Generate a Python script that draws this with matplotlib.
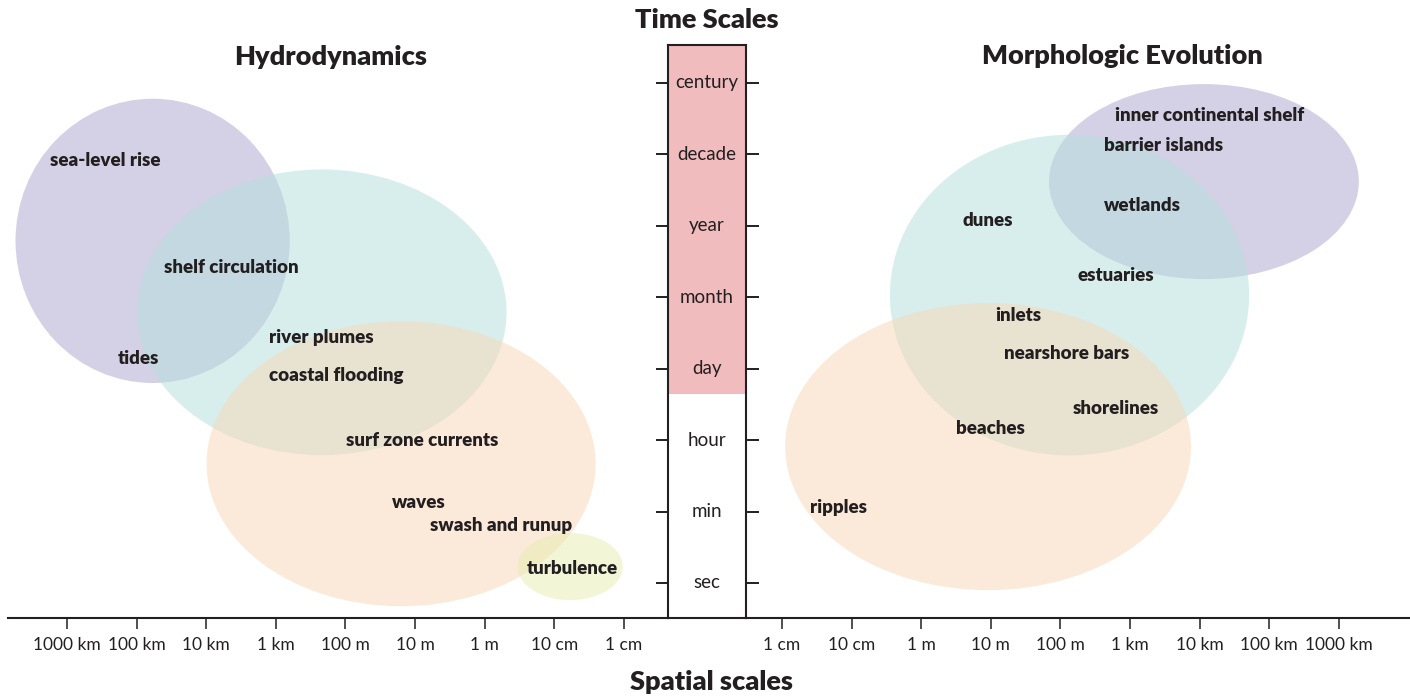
import matplotlib
matplotlib.use("Agg")
import matplotlib.pyplot as plt
from matplotlib.patches import Ellipse

plt.rcParams["font.family"] = ["Lato", "DejaVu Sans"]

# spatial scale axis: log10(metres) and labels
space_vals = [6, 5, 4, 3, 2, 1, 0, -1, -2]
space_labels = ["1000 km", "100 km", "10 km", "1 km", "100 m", "10 m", "1 m", "10 cm", "1 cm"]

# time scale axis (index: sec=0 ... century=7)
time_labels = ["sec", "min", "hour", "day", "month", "year", "decade", "century"]
time_vals = list(range(len(time_labels)))
pink_from = 2.65  # day and longer are shaded

# ellipses: (centre log10 m, centre time, width decades, height time units, colour)
hydro_names = ["sea-level rise", "shelf circulation", "tides", "river plumes",
               "coastal flooding", "surf zone currents", "waves", "swash and runup",
               "turbulence"]
hydro_x = [6.24, 4.61, 5.27, 3.10, 3.10, 1.99, 1.33, 0.79, -0.61]
hydro_y = [5.91, 4.42, 3.14, 3.44, 2.90, 2.00, 1.13, 0.81, 0.21]
hydro_blobs = [
    (4.77, 4.79, 3.94, 3.98, "#aaa4cf"),
    (2.34, 3.79, 5.31, 4.00, "#b3dfdb"),
    (1.20, 1.67, 5.59, 3.99, "#f9d7b6"),
    (-1.23, 0.23, 1.51, 0.94, "#e6ecae"),
]

morph_names = ["inner continental shelf", "barrier islands", "wetlands", "dunes",
               "estuaries", "inlets", "nearshore bars", "shorelines", "beaches", "ripples"]
morph_x = [2.78, 2.63, 2.63, 0.59, 2.24, 1.07, 1.19, 2.18, 0.50, -1.60]
morph_y = [6.55, 6.12, 5.28, 5.07, 4.31, 3.74, 3.21, 2.45, 2.16, 1.06]
morph_blobs = [
    (4.06, 5.62, 4.45, 2.73, "#aaa4cf"),
    (2.13, 4.03, 5.16, 4.49, "#b3dfdb"),
    (0.96, 1.91, 5.83, 4.02, "#f9d7b6"),
]

W, H = 1410, 696
INK = "#231f20"
fig = plt.figure(figsize=(W / 100, H / 100), dpi=100)


def px_axes(x0, y0, x1, y1):
    # axes from pixel box (top-left origin)
    return fig.add_axes([x0 / W, 1 - y1 / H, (x1 - x0) / W, (y1 - y0) / H])


def side_panel(ax, xlim, blobs, names, xs, ys):
    ax.set_xlim(*xlim)
    ax.set_ylim(-0.49, 8.162)
    for cx, cy, w, h, c in blobs:
        ax.add_patch(Ellipse((cx, cy), w, h, facecolor=c, edgecolor="none", alpha=0.5))
    for name, x, y in zip(names, xs, ys):
        ax.text(x, y, name, ha="left", va="center", fontsize=13.5,
                fontweight="heavy", color=INK)
    for s in ["top", "left", "right"]:
        ax.spines[s].set_visible(False)
    ax.spines["bottom"].set_linewidth(1.5)
    ax.spines["bottom"].set_color(INK)
    ax.set_yticks([])
    ax.set_xticks(space_vals)
    ax.set_xticklabels(space_labels)
    ax.tick_params(axis="x", direction="out", length=8, width=1.1, pad=6,
                   labelsize=12.5, colors=INK)
    ax.patch.set_alpha(0)


left = px_axes(8, 0, 668, 618)
side_panel(left, (6.848, -2.635), hydro_blobs, hydro_names, hydro_x, hydro_y)

right = px_axes(746, 0, 1410, 618)
side_panel(right, (-2.517, 7.02), morph_blobs, morph_names, morph_x, morph_y)

# time scale column
mid = px_axes(668, 45, 746, 618)
mid.set_xlim(0, 1)
mid.set_ylim(-0.49, 7.53)
mid.axhspan(pink_from, 7.53, color="#f0bcbe", lw=0)
for s in mid.spines.values():
    s.set_linewidth(1.5)
    s.set_color(INK)
mid.set_xticks([])
mid.set_yticks(time_vals)
mid.set_yticklabels([])
mid.tick_params(axis="y", left=True, right=True, direction="out", length=9, width=1.4,
                colors=INK)
for t, lab in zip(time_vals, time_labels):
    mid.text(0.5, t, lab, ha="center", va="center", fontsize=13.5, color=INK)

for x, y, txt in [(707, 20, "Time Scales"), (331, 57, "Hydrodynamics"),
                  (1122, 56, "Morphologic Evolution"), (711, 682, "Spatial scales")]:
    fig.text(x / W, 1 - y / H, txt, ha="center", va="center",
             fontsize=19.5, fontweight="heavy", color=INK)

fig.savefig("out.png", dpi=100)
